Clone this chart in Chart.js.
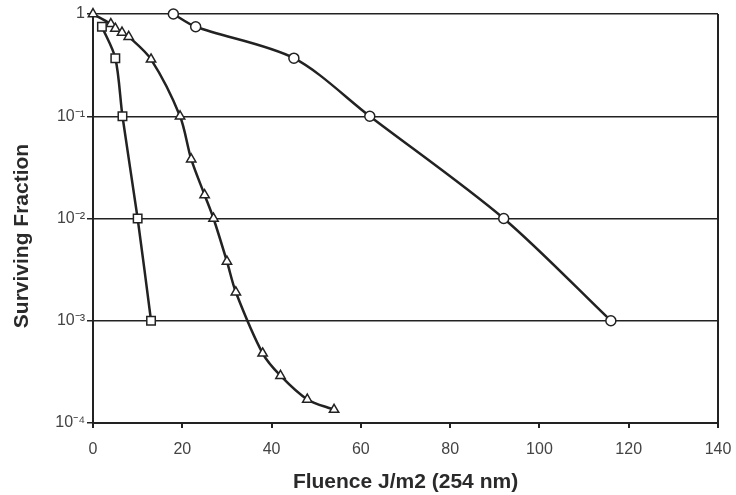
<!DOCTYPE html>
<html>
<head>
<meta charset="utf-8">
<script src="https://cdn.jsdelivr.net/npm/chart.js@4/dist/chart.umd.min.js"></script>
<style>
  body { margin: 0; background: #fff; }
  canvas { display: block; }
</style>
</head>
<body>
<canvas id="canvas1" width="736" height="495"></canvas>
<script>
// data
var squareX = [2, 5, 6.6, 10, 13];
var squareY = [0.75, 0.37, 0.1, 0.01, 0.001];

var triangleX = [0, 4, 5, 6.5, 8, 13, 19.5, 22, 25, 27, 30, 32, 38, 42, 48, 54];
var triangleY = [1, 0.8, 0.72, 0.66, 0.6, 0.36, 0.1, 0.038, 0.017, 0.01, 0.0038, 0.0019, 0.00048, 0.00029, 0.00017, 0.000135];

var circleX = [18, 23, 45, 62, 92, 116];
var circleY = [1, 0.75, 0.37, 0.1, 0.01, 0.001];

var yTickValues = [0.0001, 0.001, 0.01, 0.1, 1];
var yTickLabels = ['10\u207B\u2074', '10\u207B\u00B3', '10\u207B\u00B2', '10\u207B\u00B9', '1'];

function toPoints(xs, ys) {
	var pts = [];
	for (var i = 0; i < xs.length; i++) pts.push({x: xs[i], y: ys[i]});
	return pts;
}

var lineColor = '#222';
var fontFamily = 'Liberation Sans, Arial, sans-serif';

function serie(label, xs, ys, style, radius) {
	return {
		label: label,
		data: toPoints(xs, ys),
		borderColor: lineColor,
		borderWidth: 2.5,
		backgroundColor: '#fff',
		pointStyle: style,
		pointRadius: radius,
		pointBorderWidth: 1.5,
		pointBorderColor: lineColor,
		pointBackgroundColor: '#fff',
		tension: 0.3,
		clip: false,
		fill: false
	};
}

// right edge of the plot box
var rightBorder = {
	id: 'rightBorder',
	afterDraw: function(chart) {
		var a = chart.chartArea, ctx = chart.ctx;
		ctx.save();
		ctx.strokeStyle = lineColor;
		ctx.lineWidth = 2;
		ctx.beginPath();
		ctx.moveTo(a.right, a.top);
		ctx.lineTo(a.right, a.bottom + 5);
		ctx.stroke();
		ctx.restore();
	}
};

var config = {
	type: 'line',
	data: {
		datasets: [
			serie('squares', squareX, squareY, 'rect', 6),
			serie('triangles', triangleX, triangleY, 'triangle', 5.4),
			serie('circles', circleX, circleY, 'circle', 5)
		]
	},
	options: {
		responsive: false,
		animation: false,
		layout: { padding: { top: 14, right: 18, bottom: 0, left: 0 } },
		plugins: {
			legend: { display: false },
			tooltip: { enabled: false }
		},
		scales: {
			x: {
				type: 'linear',
				min: 0,
				max: 140,
				afterFit: function(scale) {
					scale.height = 72;
					scale.paddingLeft = 0;
					scale.paddingRight = 0;
				},
				ticks: {
					stepSize: 20,
					padding: 12,
					color: '#444',
					font: { family: fontFamily, size: 16 }
				},
				grid: { drawOnChartArea: false, drawTicks: true, tickLength: 5, color: lineColor, lineWidth: 2 },
				border: { display: true, color: lineColor, width: 2 },
				title: {
					display: true,
					text: 'Fluence J/m2 (254 nm)',
					color: '#2a2a2a',
					font: { family: fontFamily, size: 21, weight: 'bold' },
					padding: { top: 0, bottom: 0 }
				}
			},
			y: {
				type: 'logarithmic',
				min: 0.0001,
				max: 1,
				afterFit: function(scale) {
					scale.width = 93;
					scale.paddingTop = 0;
					scale.paddingBottom = 0;
				},
				afterBuildTicks: function(scale) {
					scale.ticks = yTickValues.map(function(v) { return {value: v}; });
				},
				ticks: {
					padding: 2,
					color: '#444',
					font: { family: fontFamily, size: 16 },
					callback: function(value) {
						var i = yTickValues.indexOf(value);
						return i >= 0 ? yTickLabels[i] : '';
					}
				},
				grid: { drawOnChartArea: true, drawTicks: true, tickLength: 6, color: lineColor, lineWidth: 1.5 },
				border: { display: true, color: lineColor, width: 2 },
				title: {
					display: true,
					text: 'Surviving Fraction\u00A0\u00A0\u00A0\u00A0\u00A0\u00A0',
					color: '#2a2a2a',
					font: { family: fontFamily, size: 21, weight: 'bold' },
					padding: { top: 10, bottom: 0 }
				}
			}
		}
	},
	plugins: [rightBorder]
};

var ctx = document.getElementById('canvas1').getContext('2d');
window.myLine = new Chart(ctx, config);
</script>
</body>
</html>
